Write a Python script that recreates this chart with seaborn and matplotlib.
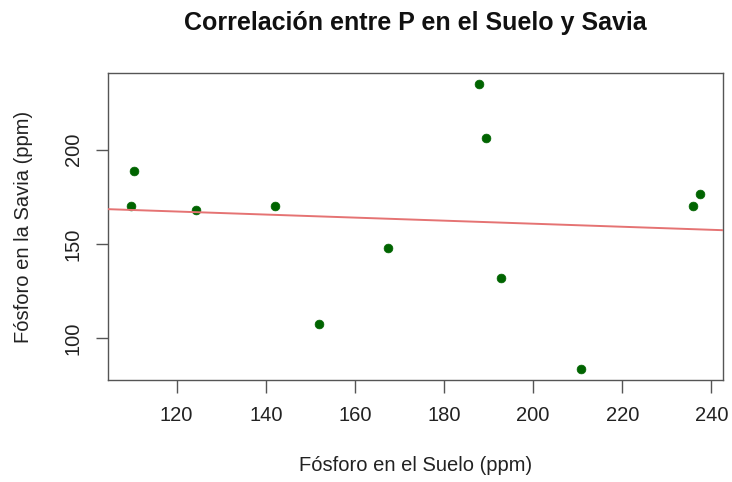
import matplotlib
matplotlib.use("Agg")
import matplotlib.pyplot as plt
import seaborn as sns
import pandas as pd

fosforo_suelo = [109.7, 110.5, 124.4, 142.0, 151.9, 167.5, 187.9, 189.5, 192.8, 210.8, 235.8, 237.5]
fosforo_savia = [170.3, 188.5, 168.1, 170.3, 107.4, 148.0, 234.5, 206.2, 131.9, 83.9, 170.3, 176.3]
x_ticks = [120, 140, 160, 180, 200, 220, 240]
y_ticks = [100, 150, 200]

df = pd.DataFrame({"suelo": fosforo_suelo, "savia": fosforo_savia})

sns.set_theme(style="white")
plt.rcParams['font.family'] = ['Liberation Sans', 'DejaVu Sans']

fig = plt.figure(figsize=(7.32, 4.82), dpi=100)
ax = fig.add_axes([0.1475, 0.2116, 0.8402, 0.6369])

# R-style 4% padding
xr = max(fosforo_suelo) - min(fosforo_suelo)
yr = max(fosforo_savia) - min(fosforo_savia)
xlim = (min(fosforo_suelo) - 0.04 * xr, max(fosforo_suelo) + 0.04 * xr)
ylim = (min(fosforo_savia) - 0.04 * yr, max(fosforo_savia) + 0.04 * yr)
ax.set_xlim(*xlim)
ax.set_ylim(*ylim)

sns.scatterplot(data=df, x="suelo", y="savia", ax=ax, color="#006400",
                s=40, edgecolor="#006400", linewidth=0.5, zorder=2)
sns.regplot(data=df, x="suelo", y="savia", ax=ax, scatter=False, ci=None,
            truncate=False, line_kws={"color": "#E57373", "linewidth": 1.4, "zorder": 3})

ax.set_xlim(*xlim)
ax.set_ylim(*ylim)

ax.set_xticks(x_ticks)
ax.set_yticks(y_ticks)
ax.tick_params(axis="both", direction="out", length=9, width=1, color="#555555",
               labelsize=14.5, labelcolor="#222222", bottom=True, left=True)
ax.tick_params(axis="x", pad=10)
ax.tick_params(axis="y", pad=9)
for lab in ax.get_yticklabels():
    lab.set_rotation(90)
    lab.set_va("center")

for sp in ax.spines.values():
    sp.set_color("#555555")
    sp.set_linewidth(1.0)

ax.set_xlabel("Fósforo en el Suelo (ppm)", fontsize=14.5, color="#222222")
ax.set_ylabel("Fósforo en la Savia (ppm)", fontsize=14.5, color="#222222")
ax.xaxis.set_label_coords(0.5, -0.28)
ax.xaxis.label.set_va("center")
ax.yaxis.set_label_coords(-0.137, 0.5)
ax.yaxis.label.set_va("center")
ax.set_title("Correlación entre P en el Suelo y Savia", fontsize=18,
             fontweight="bold", color="#111111", y=1.136, va="center")

fig.savefig("out.png", dpi=100, facecolor="white")
